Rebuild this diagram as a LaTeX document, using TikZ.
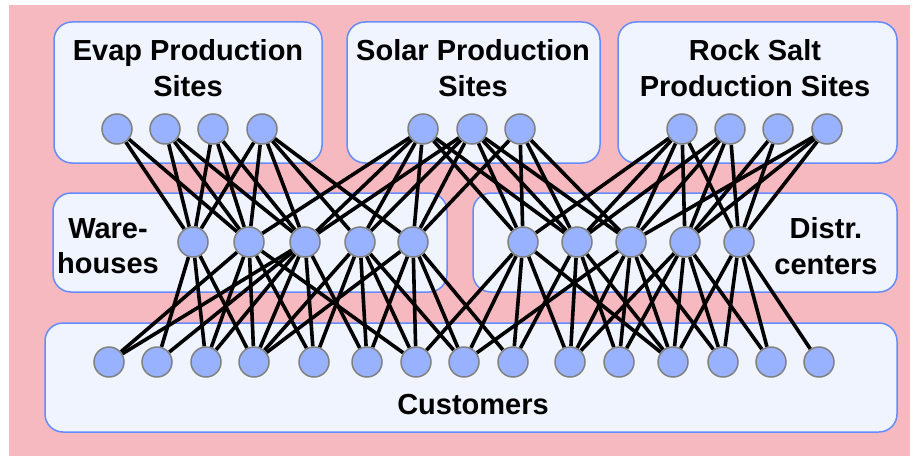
\documentclass[tikz,border=0pt]{standalone}
\usepackage{fontspec}
\setmainfont{Liberation Sans}
\pgfdeclarelayer{bg}
\pgfdeclarelayer{edges}
\pgfsetlayers{bg,edges,main}
\definecolor{pinkbg}{RGB}{247,185,192}
\definecolor{boxfill}{RGB}{240,244,255}
\definecolor{boxline}{RGB}{100,140,255}
\definecolor{dotfill}{RGB}{153,178,255}
\definecolor{dotline}{RGB}{128,128,128}
\begin{document}
\begin{tikzpicture}[x=1pt,y=-1pt,
  panel/.style={draw=boxline, fill=boxfill, rounded corners=18pt, line width=1.5pt},
  site/.style={circle, draw=dotline, fill=dotfill, minimum size=30pt, inner sep=0pt, line width=1.5pt},
  link/.style={line width=3.6pt, black},
  lbl/.style={font=\fontsize{29}{35.5}\selectfont\bfseries, align=center, inner sep=0pt}]
\useasboundingbox (0,0) rectangle (917,460);
\begin{pgfonlayer}{bg}
\fill[pinkbg] (9,5) rectangle (910,456);
\path[panel] (54,22) rectangle (322,163);
\path[panel] (347,22) rectangle (600,163);
\path[panel] (618,22) rectangle (897,163);
\path[panel] (53,193) rectangle (447,292);
\path[panel] (473,193) rectangle (897,292);
\path[panel] (45,323) rectangle (897,432);
\end{pgfonlayer}
% labels
\node[lbl] (tevap) at (188,68) {Evap Production\\Sites};
\node[lbl] (tsolar) at (473,68) {Solar Production\\Sites};
\node[lbl] (trock) at (755,68) {Rock Salt\\Production Sites};
\node[lbl] (tware) at (108,246) {Ware-\\houses};
\node[lbl] (tdistr) at (826,246) {Distr.\\centers};
\node[lbl] (tcust) at (473,405) {Customers};
% top row
\foreach \n/\x in {E1/117,E2/165,E3/213,E4/262,S1/423,S2/472,S3/520,R1/682,R2/730,R3/778,R4/827}
  \node[site] (\n) at (\x,129) {};
% middle row
\foreach \n/\x in {W1/193,W2/249,W3/305,W4/360,W5/413,D1/523,D2/577,D3/631,D4/685,D5/739}
  \node[site] (\n) at (\x,242) {};
% bottom row
\foreach \n/\x in {C1/109,C2/157,C3/206,C4/254,C5/314,C6/367,C7/416,C8/464,C9/513,C10/570,C11/619,C12/673,C13/723,C14/771,C15/819}
  \node[site] (\n) at (\x,362) {};
\begin{pgfonlayer}{edges}
\foreach \a/\b in {E1/W1,E1/W2,E2/W1,E2/W2,E2/W3,E3/W1,E3/W2,E3/W3,E4/W1,E4/W2,E4/W3,E4/W4,E4/W5,
  S1/W2,S1/W3,S1/W4,S1/W5,S1/D1,S1/D2,S2/W3,S2/W4,S2/W5,S2/D1,S2/D2,S2/D3,S3/W5,S3/D1,S3/D2,S3/D3,
  R1/D1,R1/D2,R1/D3,R1/D4,R1/D5,R2/D2,R2/D3,R2/D4,R2/D5,R3/D4,R3/D5,R4/D3,R4/D4,R4/D5,
  W1/C2,W1/C3,W1/C4,W2/C1,W2/C3,W2/C4,W2/C5,W2/C7,W3/C1,W3/C2,W3/C3,W3/C4,W3/C5,W3/C6,
  W4/C4,W4/C5,W4/C6,W4/C7,W4/C8,W5/C4,W5/C6,W5/C7,W5/C8,W5/C9,
  D1/C7,D1/C8,D1/C9,D1/C10,D1/C12,D2/C9,D2/C10,D2/C11,D2/C12,
  D3/C8,D3/C10,D3/C11,D3/C12,D3/C13,D4/C10,D4/C11,D4/C12,D4/C13,D4/C14,D5/C12,D5/C13,D5/C14,D5/C15}
  \draw[link] (\a) -- (\b);
\end{pgfonlayer}
\end{tikzpicture}
\end{document}
